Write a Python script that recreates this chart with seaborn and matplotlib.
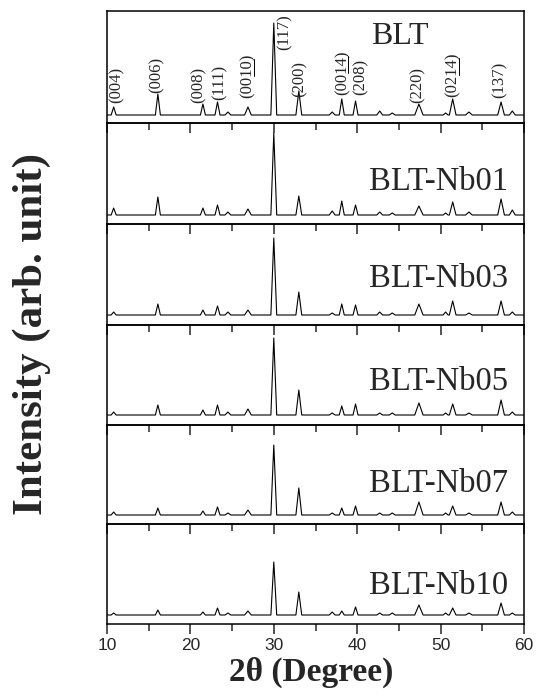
import numpy as np
import pandas as pd
import matplotlib
matplotlib.use('Agg')
import matplotlib.pyplot as plt
import seaborn as sns
from matplotlib.ticker import MultipleLocator
from matplotlib.lines import Line2D

# peak positions (2theta, deg) and half width at base
peak_pos = [10.8, 16.1, 21.5, 23.25, 24.5, 26.9, 30.0, 33.0, 37.0, 38.15,
            39.8, 42.7, 44.2, 47.4, 50.6, 51.45, 53.4, 57.25, 58.6]
peak_hw = [0.3, 0.3, 0.3, 0.3, 0.35, 0.4, 0.35, 0.35, 0.35, 0.3,
           0.3, 0.35, 0.35, 0.5, 0.3, 0.4, 0.4, 0.4, 0.35]

# peak heights above background (arb. unit)
h_blt = [8, 21, 11, 13, 3, 8, 92, 24, 3, 16, 14, 4, 2, 11, 2, 16, 3, 13, 4]
h_nb01 = [7, 18, 7, 10, 3, 6, 82, 19, 4, 14, 10, 3, 2, 9, 2, 13, 3, 16, 5]
h_nb03 = [3, 11, 5, 9, 3, 5, 77, 23, 2, 11, 10, 3, 2, 11, 3, 14, 2, 14, 3]
h_nb05 = [3, 10, 5, 10, 3, 6, 77, 25, 2, 9, 11, 2, 2, 12, 2, 11, 2, 15, 3]
h_nb07 = [3, 7, 4, 8, 2, 5, 70, 27, 2, 7, 9, 2, 2, 13, 2, 9, 2, 13, 3]
h_nb10 = [2, 5, 3, 7, 2, 4, 53, 23, 3, 4, 8, 2, 2, 10, 2, 7, 2, 12, 2]

samples = ['BLT', 'BLT-Nb01', 'BLT-Nb03', 'BLT-Nb05', 'BLT-Nb07', 'BLT-Nb10']
heights = [h_blt, h_nb01, h_nb03, h_nb05, h_nb07, h_nb10]

# miller indices marked on the BLT pattern (underlined part given separately)
hkl_labels = ['(004)', '(006)', '(008)', '(111)', '(0010)', '(117)', '(200)',
              '(0014)', '(208)', '(220)', '(0214)', '(137)']
hkl_under = [None, None, None, None, (3, 5), None, None, (3, 5), None, None, (3, 5), None]
hkl_x = [11.2, 16.0, 21.0, 23.5, 26.9, 31.3, 33.1, 38.2, 40.45, 47.3, 51.5, 57.1]
hkl_y = [12, 22, 12, 15, 17, 65, 18, 20, 20, 12, 18, 17]

label_y = [None, 33, 36, 33, 31, 29]

sns.set_style('ticks')
plt.rcParams['font.family'] = ['Liberation Serif', 'DejaVu Serif']
plt.rcParams['axes.linewidth'] = 1.1


def trace(h):
    xs, ys = [10.0], [0.0]
    for p, hw, v in zip(peak_pos, peak_hw, h):
        xs += [p - hw, p, p + hw]
        ys += [0, v, 0]
    xs.append(60.0)
    ys.append(0.0)
    return pd.DataFrame({'two_theta': xs, 'intensity': ys})


panel_h = [112, 101, 101, 100, 99, 100]
base_off = [8, 9, 10, 10, 9, 9]

fig = plt.figure(figsize=(5.42, 6.97), dpi=100)
gs = fig.add_gridspec(6, 1, height_ratios=panel_h, hspace=0,
                      left=107/542, right=524/542, top=1-11/697, bottom=1-624/697)

hkl_texts = []
for i, (name, h) in enumerate(zip(samples, heights)):
    ax = fig.add_subplot(gs[i])
    ax.patch.set_visible(False)
    sns.lineplot(data=trace(h), x='two_theta', y='intensity', ax=ax,
                 color='black', linewidth=0.8, estimator=None, sort=False)
    ax.set_xlim(10, 60)
    ax.set_ylim(-base_off[i], panel_h[i] - base_off[i])
    ax.set_yticks([])
    ax.set_xlabel('')
    ax.set_ylabel('')
    ax.xaxis.set_major_locator(MultipleLocator(10))
    ax.xaxis.set_minor_locator(MultipleLocator(5))
    ax.tick_params(axis='x', which='major', direction='out', length=7, width=1.1,
                   labelbottom=(i == 5), labelsize=12.5, pad=3)
    ax.tick_params(axis='x', which='minor', direction='out', length=5, width=1.1)
    for lab in ax.get_xticklabels():
        lab.set_family('Liberation Sans')
    for s in ax.spines.values():
        s.set_visible(True)
        s.set_color('black')
    if i == 0:
        ax.text(45.1, 78, name, fontsize=23, ha='center', va='center')
        for lab, x, y, u in zip(hkl_labels, hkl_x, hkl_y, hkl_under):
            t = ax.text(x, y, lab, rotation=90, fontsize=12, ha='center', va='bottom')
            hkl_texts.append((t, u))
    else:
        ax.text(58.1, label_y[i], name, fontsize=23.5, ha='right', va='center')

fig.text(32/542, 1-334/697, 'Intensity (arb. unit)', rotation=90, fontsize=31,
         fontweight='bold', ha='center', va='center')
fig.text(311/542, 1-672/697, '2\u03b8 (Degree)', fontsize=24,
         fontweight='bold', ha='center', va='center')

# underline the two-digit index in (0010), (0014), (0214)
renderer = fig.canvas.get_renderer()
W, H = fig.bbox.width, fig.bbox.height
for t, u in hkl_texts:
    if u is None:
        continue
    s = t.get_text()
    bb = t.get_window_extent(renderer)
    prop = t.get_fontproperties()
    _, _, desc = renderer.get_text_width_height_descent(s, prop, ismath=False)
    w1, _, _ = renderer.get_text_width_height_descent(s[:u[0]], prop, ismath=False)
    w2, _, _ = renderer.get_text_width_height_descent(s[:u[1]], prop, ismath=False)
    xb = bb.x1 - desc + 1.5
    fig.add_artist(Line2D([xb / W, xb / W], [(bb.y0 + w1) / H, (bb.y0 + w2) / H],
                          transform=fig.transFigure, color='black', linewidth=0.7))

plt.savefig('out.png', dpi=100)
